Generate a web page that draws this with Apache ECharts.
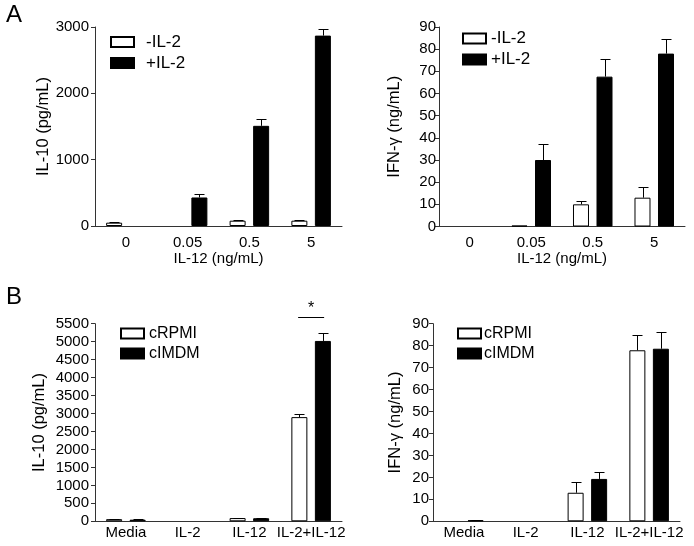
<!DOCTYPE html>
<html><head><meta charset="utf-8">
<script src="https://cdn.jsdelivr.net/npm/echarts@6/dist/echarts.min.js"></script>
<style>html,body{margin:0;padding:0;background:#fff}#c{width:694px;height:546px}</style>
</head><body><div id="c"></div><script>
// ---- data ----
const doseCategories = ['0', '0.05', '0.5', '5'];
const mediaCategories = ['Media', 'IL-2', 'IL-12', 'IL-2+IL-12'];
const seriesNamesA = ['-IL-2', '+IL-2'];
const seriesNamesB = ['cRPMI', 'cIMDM'];

const aIL10Minus    = [50, 0, 80, 80];
const aIL10MinusErr = [8, 0, 10, 10];
const aIL10Plus     = [0, 430, 1510, 2870];
const aIL10PlusErr  = [0, 50, 110, 100];

const aIFNMinus     = [0, 0.4, 10, 13];
const aIFNMinusErr  = [0, 0, 1.4, 4.8];
const aIFNPlus      = [0, 30, 67.6, 78];
const aIFNPlusErr   = [0, 7, 8, 6.5];

const bIL10RPMI     = [60, 0, 90, 2900];
const bIL10RPMIErr  = [8, 0, 10, 90];
const bIL10IMDM     = [45, 0, 85, 5020];
const bIL10IMDMErr  = [10, 0, 12, 230];

const bIFNRPMI      = [0, 0, 13, 77.9];
const bIFNRPMIErr   = [0, 0, 4.8, 6.8];
const bIFNIMDM      = [0.5, 0, 19.3, 78.6];
const bIFNIMDMErr   = [0.1, 0, 3.2, 7.8];

const yRangeIL10A = [0, 3000, 1000];
const yRangeIFN   = [0, 90, 10];
const yRangeIL10B = [0, 5500, 500];

const sigCategory = 3;
const sigValue = 5680;

// ---- chart ----
const FONT = "'Liberation Sans', Arial, sans-serif";
const FS = 15;
const FS_YNAME = 16.5;
const BAR_W = 16, BAR_GAP = '47%', HALF = 11.75;

const panels = [
  {grid:{left:95, top:27, width:247, height:199}, cats:doseCategories, names:seriesNamesA,
   y:yRangeIL10A, yname:'IL-10 (pg/mL)', ygap:43, xname:'IL-12 (ng/mL)', xMargin:9,
   w:[aIL10Minus,aIL10MinusErr], b:[aIL10Plus,aIL10PlusErr], lblMargin:6},
  {grid:{left:439, top:27, width:246, height:199.5}, cats:doseCategories, names:seriesNamesA,
   y:yRangeIFN, yname:'IFN-\u03b3 (ng/mL)', ygap:36, xname:'IL-12 (ng/mL)', xMargin:9,
   w:[aIFNMinus,aIFNMinusErr], b:[aIFNPlus,aIFNPlusErr], lblMargin:3},
  {grid:{left:95, top:323.7, width:247, height:197.6}, cats:mediaCategories, names:seriesNamesB,
   y:yRangeIL10B, yname:'IL-10 (pg/mL)', ygap:47, xname:'', xMargin:4,
   w:[bIL10RPMI,bIL10RPMIErr], b:[bIL10IMDM,bIL10IMDMErr], lblMargin:6},
  {grid:{left:433, top:323.7, width:247, height:197.6}, cats:mediaCategories, names:seriesNamesB,
   y:yRangeIFN, yname:'IFN-\u03b3 (ng/mL)', ygap:29, xname:'', xMargin:4,
   w:[bIFNRPMI,bIFNRPMIErr], b:[bIFNIMDM,bIFNIMDMErr], lblMargin:4}
];

function errRenderer(offset){
  return function(params, api){
    const v = api.value(1), e = api.value(2);
    if (!(e > 0)) return;
    const base = api.coord([api.value(0), v]);
    const top = api.coord([api.value(0), v + e]);
    const x = Math.round(base[0] + offset) + 0.5;
    const yt = Math.round(top[1]) + 0.5;
    return {type:'group', children:[
      {type:'line', shape:{x1:x, y1:base[1], x2:x, y2:yt}, style:{stroke:'#000', lineWidth:1}},
      {type:'line', shape:{x1:x-5, y1:yt, x2:x+5, y2:yt}, style:{stroke:'#000', lineWidth:1}}
    ]};
  };
}
// zero-height bars are not drawn (no border line)
function barData(vals){
  return vals.map(v => v === 0 ? {value:0, itemStyle:{borderWidth:0, opacity:0}} : v);
}

const axisLineStyle = {color:'#333', width:1};
const grids = [], xAxes = [], yAxes = [], series = [];
panels.forEach((p, i) => {
  grids.push(Object.assign({containLabel:false}, p.grid));
  xAxes.push({type:'category', gridIndex:i, data:p.cats,
    axisLine:{lineStyle:axisLineStyle}, axisTick:{alignWithLabel:true, length:5, lineStyle:axisLineStyle},
    axisLabel:{color:'#000', fontSize:FS, fontFamily:FONT, margin:p.xMargin, interval:0},
    name:p.xname, nameLocation:'middle', nameGap:23,
    nameTextStyle:{color:'#000', fontSize:FS, fontFamily:FONT, verticalAlign:'top'}});
  yAxes.push({type:'value', gridIndex:i, min:p.y[0], max:p.y[1], interval:p.y[2],
    splitLine:{show:false},
    axisLine:{show:true, lineStyle:axisLineStyle}, axisTick:{show:true, length:4, lineStyle:axisLineStyle},
    axisLabel:{color:'#000', fontSize:FS, fontFamily:FONT, margin:p.lblMargin, formatter:v => String(v)},
    name:p.yname, nameLocation:'middle', nameGap:p.ygap, nameRotate:90, nameMoveOverlap:false,
    nameTextStyle:{color:'#000', fontSize:FS_YNAME, fontFamily:FONT}});
  series.push({type:'bar', name:p.names[0], xAxisIndex:i, yAxisIndex:i, data:barData(p.w[0]),
    barWidth:BAR_W, barGap:BAR_GAP,
    itemStyle:{color:'#fff', borderColor:'#000', borderWidth:1}, animation:false});
  series.push({type:'bar', name:p.names[1], xAxisIndex:i, yAxisIndex:i, data:barData(p.b[0]),
    barWidth:BAR_W, barGap:BAR_GAP,
    itemStyle:{color:'#000', borderColor:'#000', borderWidth:1}, animation:false});
  series.push({type:'custom', xAxisIndex:i, yAxisIndex:i, renderItem:errRenderer(-HALF),
    data:p.w[0].map((v,k)=>[k, v, p.w[1][k]]), encode:{x:0, y:1}, z:3, animation:false, silent:true});
  series.push({type:'custom', xAxisIndex:i, yAxisIndex:i, renderItem:errRenderer(HALF),
    data:p.b[0].map((v,k)=>[k, v, p.b[1][k]]), encode:{x:0, y:1}, z:3, animation:false, silent:true});
});

// significance marker on panel B left
series.push({type:'custom', xAxisIndex:2, yAxisIndex:2, clip:false, silent:true, animation:false,
  data:[[sigCategory, sigValue]], encode:{x:0, y:1},
  renderItem:function(params, api){
    const c = api.coord([api.value(0), api.value(1)]);
    const y = Math.round(c[1]) + 0.5;
    return {type:'group', children:[
      {type:'line', shape:{x1:c[0]-13, y1:y, x2:c[0]+13, y2:y}, style:{stroke:'#000', lineWidth:1}},
      {type:'text', style:{text:'*', x:c[0], y:y-1, align:'center', verticalAlign:'bottom',
        font:'16px ' + FONT, fill:'#000'}}
    ]};
  }});

function legendOf(names, left, top, fs, pad){
  return {orient:'vertical', icon:'rect', itemWidth:23, itemHeight:10, itemGap:4,
    selectedMode:false, data:names, left:left, top:top,
    textStyle:{color:'#000', fontSize:fs, fontFamily:FONT, padding:[0,0,0,pad]}};
}
const legends = [
  legendOf(seriesNamesA, 105, 28.5, 17, 7),
  legendOf(seriesNamesA, 457, 25, 17, 0),
  legendOf(seriesNamesB, 115, 320.5, 16, 0),
  legendOf(seriesNamesB, 452, 320.5, 16, -2)
];

const chart = echarts.init(document.getElementById('c'), null, {renderer:'canvas'});
chart.setOption({
  backgroundColor:'#fff',
  animation:false,
  grid:grids, xAxis:xAxes, yAxis:yAxes, series:series, legend:legends,
  graphic:[
    {type:'text', left:6, top:3, style:{text:'A', font:'24px ' + FONT, fill:'#000'}},
    {type:'text', left:6, top:285, style:{text:'B', font:'24px ' + FONT, fill:'#000'}}
  ]
});
</script></body></html>
